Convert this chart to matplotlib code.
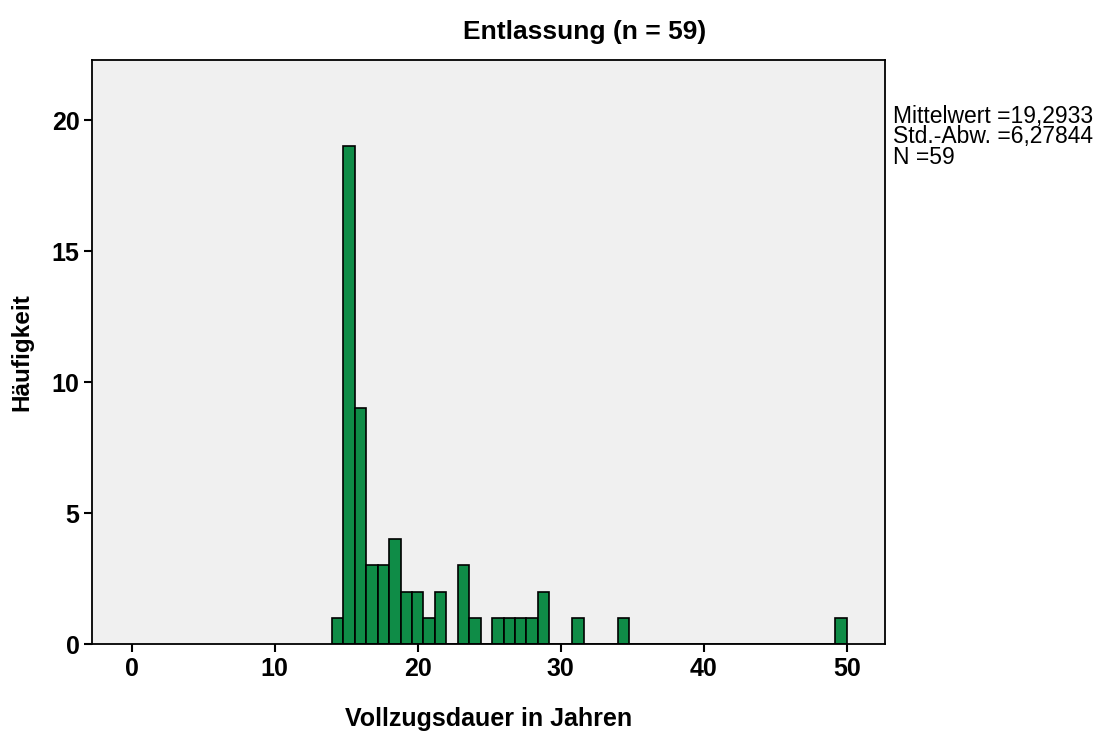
import matplotlib

matplotlib.use("Agg")
import matplotlib.pyplot as plt

# Histogram of Vollzugsdauer (years), SPSS-style, bin width 0.8 starting at 14.0
bin_start = 14.0
bin_width = 0.8
counts = [
    1, 19, 9, 3, 3, 4, 2, 2, 1, 2,
    0, 3, 1, 0, 1, 1, 1, 1, 2, 0,
    0, 1, 0, 0, 0, 1, 0, 0, 0, 0,
    0, 0, 0, 0, 0, 0, 0, 0, 0, 0,
    0, 0, 0, 0, 1,
]
bin_edges = [bin_start + i * bin_width for i in range(len(counts))]

x_ticks = [0, 10, 20, 30, 40, 50]
y_ticks = [0, 5, 10, 15, 20]
stats_lines = ["Mittelwert =19,2933", "Std.-Abw. =6,27844", "N =59"]

plt.rcParams["font.family"] = ["Liberation Sans", "DejaVu Sans"]

fig = plt.figure(figsize=(11.02, 7.34), dpi=100)
ax = fig.add_axes([92 / 1102, 1 - 644 / 734, (885 - 92) / 1102, (644 - 60) / 734])
ax.set_facecolor("#F0F0F0")

ax.bar(bin_edges, counts, width=bin_width, align="edge",
       color="#0F8C47", edgecolor="black", linewidth=1.2)

ax.set_xlim(-2.78, 52.68)
ax.set_ylim(0, 22.3)
ax.set_xticks(x_ticks)
ax.set_yticks(y_ticks)
ax.tick_params(direction="out", length=6, width=1.5, labelsize=18, pad=3)
for lbl in ax.get_xticklabels() + ax.get_yticklabels():
    lbl.set_fontweight("bold")
for spine in ax.spines.values():
    spine.set_linewidth(1.3)

ax.set_xlabel("Vollzugsdauer in Jahren", fontsize=18, fontweight="bold", labelpad=19)
ax.set_ylabel("Häufigkeit", fontsize=17.5, fontweight="bold", labelpad=13)

fig.text(585 / 1102, 1 - 32 / 734, "Entlassung (n = 59)", ha="center", va="center",
         fontsize=19, fontweight="bold")
fig.text(893 / 1102, 1 - 105 / 734, "\n".join(stats_lines), ha="left", va="top",
         fontsize=16.5, linespacing=0.85)

fig.savefig("out.png", dpi=100)
plt.close(fig)
